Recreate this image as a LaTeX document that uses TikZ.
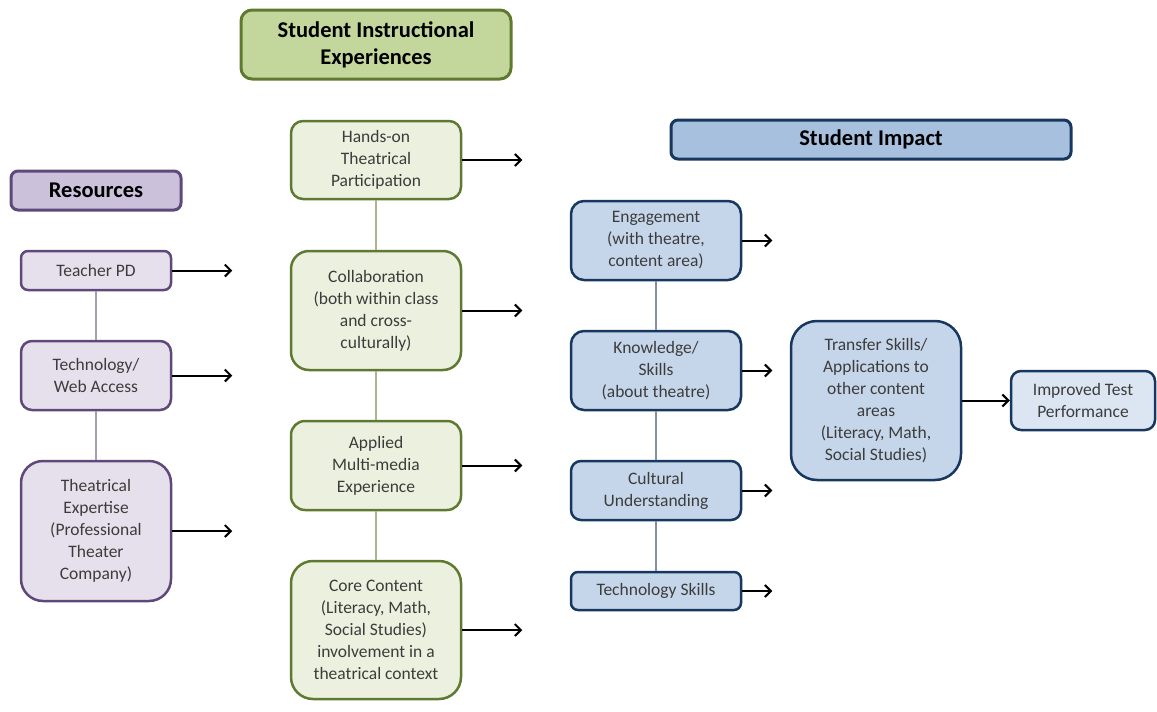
\documentclass[tikz,border=0pt]{standalone}
\usepackage{fontspec}
\setmainfont{Carlito}
\usepackage{tikz}
\usetikzlibrary{positioning,arrows.meta}
\tikzstyle{canvas} = [x = 1pt, y = -1pt]
\definecolor{bodyText}{RGB}{60,60,60}
\definecolor{resourceFill}{RGB}{230,224,236}
\definecolor{resourceHeadFill}{RGB}{204,193,218}
\definecolor{resourceLine}{RGB}{95,73,122}
\definecolor{instructionFill}{RGB}{235,241,222}
\definecolor{instructionHeadFill}{RGB}{195,214,155}
\definecolor{instructionLine}{RGB}{95,122,48}
\definecolor{impactFill}{RGB}{198,214,234}
\definecolor{impactLightFill}{RGB}{220,230,242}
\definecolor{impactHeadFill}{RGB}{167,192,222}
\definecolor{impactLine}{RGB}{23,55,94}
\tikzstyle{boxStyle} = [draw, line width = 2.5pt, align = center, inner sep = 2pt, text = bodyText, font = \fontsize{17.5}{22}\selectfont]
\tikzstyle{headStyle} = [boxStyle, line width = 3pt, text = black, font = \fontsize{22.5}{27}\selectfont\bfseries]
\tikzstyle{resourceBox} = [boxStyle, draw = resourceLine, fill = resourceFill]
\tikzstyle{instructionBox} = [boxStyle, draw = instructionLine, fill = instructionFill]
\tikzstyle{impactBox} = [boxStyle, draw = impactLine, fill = impactFill]
\tikzstyle{linkLine} = [line width = 1.3pt]
\tikzstyle{flowArrow} = [line width = 2pt, -{Straight Barb[length = 6pt, width = 12pt]}]

\begin{document}
\begin{tikzpicture}[canvas]
  \useasboundingbox (0,0) rectangle (1157,712);

  % resources
  \node [headStyle, draw = resourceLine, fill = resourceHeadFill, rounded corners = 7pt,
         minimum width = 170pt, minimum height = 39pt] (resourcesHead) at (96,190.5) {Resources};
  \node [resourceBox, rounded corners = 7pt, minimum width = 150pt, minimum height = 39pt]
        (teacherPD) at (96,270.5) {Teacher PD};
  \node [resourceBox, rounded corners = 11pt, minimum width = 150pt, minimum height = 69pt]
        (webAccess) at (96,375.5) {Technology/\\Web Access};
  \node [resourceBox, rounded corners = 22pt, minimum width = 150pt, minimum height = 140pt]
        (theatreExpertise) at (96,531) {Theatrical\\Expertise\\(Professional\\Theater\\Company)};
  \draw [linkLine, resourceLine!55] (teacherPD) -- (webAccess);
  \draw [linkLine, resourceLine!55] (webAccess) -- (theatreExpertise);

  % instructional experiences
  \node [headStyle, draw = instructionLine, fill = instructionHeadFill, rounded corners = 11pt,
         minimum width = 270pt, minimum height = 69pt] (instructionHead) at (376,44.5)
        {Student Instructional\\Experiences};
  \node [instructionBox, rounded corners = 12pt, minimum width = 170pt, minimum height = 78pt]
        (handsOn) at (376,160) {Hands-on\\Theatrical\\Participation};
  \node [instructionBox, rounded corners = 18pt, minimum width = 170pt, minimum height = 119pt]
        (collaboration) at (376,310.5) {Collaboration\\(both within class\\and cross-\\culturally)};
  \node [instructionBox, rounded corners = 14pt, minimum width = 170pt, minimum height = 89pt]
        (multiMedia) at (376,465.5) {Applied\\Multi-media\\Experience};
  \node [instructionBox, rounded corners = 22pt, minimum width = 170pt, minimum height = 138pt]
        (coreContent) at (376,630) {Core Content\\(Literacy, Math,\\Social Studies)\\involvement in a\\theatrical context};
  \draw [linkLine, instructionLine!55] (handsOn) -- (collaboration);
  \draw [linkLine, instructionLine!55] (collaboration) -- (multiMedia);
  \draw [linkLine, instructionLine!55] (multiMedia) -- (coreContent);

  % student impact
  \node [headStyle, draw = impactLine, fill = impactHeadFill, rounded corners = 7pt,
         minimum width = 400pt, minimum height = 39pt] (impactHead) at (871,139.5) {Student Impact};
  \node [impactBox, rounded corners = 13pt, minimum width = 170pt, minimum height = 79pt]
        (engagement) at (656,240.5) {Engagement\\(with theatre,\\content area)};
  \node [impactBox, rounded corners = 13pt, minimum width = 170pt, minimum height = 79pt]
        (knowledge) at (656,370.5) {Knowledge/\\Skills\\(about theatre)};
  \node [impactBox, rounded corners = 10pt, minimum width = 170pt, minimum height = 59pt]
        (cultural) at (656,490.5) {Cultural\\Understanding};
  \node [impactBox, rounded corners = 7pt, minimum width = 170pt, minimum height = 38pt]
        (techSkills) at (656,591) {Technology Skills};
  \node [impactBox, rounded corners = 26pt, minimum width = 170pt, minimum height = 159pt]
        (transferSkills) at (876,400.5) {Transfer Skills/\\Applications to\\other content\\areas\\(Literacy, Math,\\Social Studies)};
  \node [impactBox, fill = impactLightFill, rounded corners = 10pt, minimum width = 144pt,
         minimum height = 59pt] (testPerformance) at (1083,400.5) {Improved Test\\Performance};
  \draw [linkLine, impactLine!55] (engagement) -- (knowledge);
  \draw [linkLine, impactLine!55] (knowledge) -- (cultural);
  \draw [linkLine, impactLine!55] (cultural) -- (techSkills);

  % arrows
  \foreach \source/\length in {teacherPD/60, webAccess/60, theatreExpertise/60,
                               handsOn/60, collaboration/60, multiMedia/60, coreContent/60,
                               engagement/30, knowledge/30, cultural/30, techSkills/30} {
    \coordinate [right = \length pt of \source] (\source-tip);
    \draw [flowArrow] (\source) -- (\source-tip);
  }
  \draw [flowArrow] (transferSkills) -- (testPerformance);
\end{tikzpicture}
\end{document}
